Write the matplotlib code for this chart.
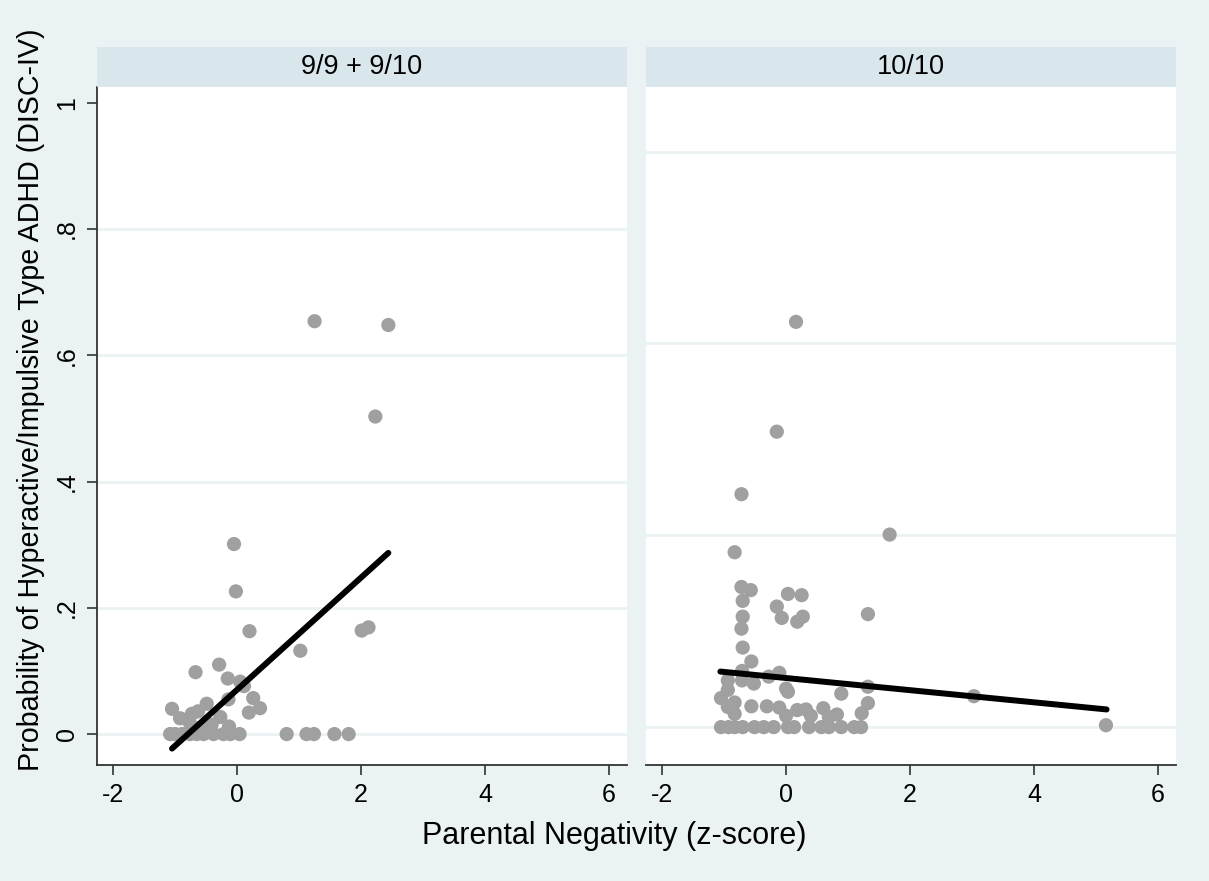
import matplotlib
matplotlib.use("Agg")
import matplotlib.pyplot as plt
import numpy as np

plt.rcParams['font.family'] = ['Liberation Sans', 'DejaVu Sans']

panel_titles = ['9/9 + 9/10', '10/10']

# panel 1: 9/9 + 9/10
x1 = [-0.05, -0.02, 0.20, 1.02, 2.01, 2.12, -0.67, -0.29, -0.15, 0.05, 0.11,
      0.26, 0.37, 0.19, -0.14, -1.05, -0.92, -0.73, -0.63, -0.49, -0.27, -0.13,
      -0.41, -0.76, -0.57, -1.08, -1.00, -0.89, -0.76, -0.65, -0.54, -0.38,
      -0.22, -0.11, 0.04, 0.80, 1.12, 1.24, 1.57, 1.80, 1.25, 2.44, 2.23]
y1 = [0.301, 0.226, 0.163, 0.132, 0.164, 0.169, 0.098, 0.110, 0.088, 0.083, 0.076,
      0.057, 0.041, 0.034, 0.055, 0.040, 0.025, 0.032, 0.036, 0.048, 0.027, 0.012,
      0.015, 0.017, 0.011, 0.0, 0.0, 0.0, 0.0, 0.0, 0.0, 0.0,
      0.0, 0.0, 0.0, 0.0, 0.0, 0.0, 0.0, 0.0, 0.654, 0.648, 0.503]
fit1_x = [-1.05, 2.44]
fit1_y = [-0.023, 0.287]

# panel 2: 10/10
x2 = [0.16, -0.15, -0.72, 1.67, -0.83, -0.72, -0.57, -0.70, 0.03, 0.25, -0.15,
      -0.07, 0.18, 0.27, 1.32, -0.70, -0.72, -0.70, -0.56, -0.71, -0.94, -0.71,
      -0.52, -0.28, -0.11, 0.00, 0.03, 0.89, 1.32, 3.03, -0.94, -1.05, -0.83,
      -0.94, -0.83, -0.56, -0.31, -0.11, 0.00, 0.18, 0.32, 0.40, 0.60, 0.69,
      0.82, 1.32, 1.22, 5.16, -1.05, -0.93, -0.83, -0.70, -0.51, -0.36, -0.20,
      0.03, 0.13, 0.37, 0.57, 0.69, 0.89, 1.10, 1.21]
y2 = [0.653, 0.479, 0.380, 0.316, 0.288, 0.233, 0.228, 0.211, 0.222, 0.220, 0.202,
      0.184, 0.178, 0.186, 0.190, 0.186, 0.167, 0.137, 0.115, 0.100, 0.085, 0.085,
      0.080, 0.091, 0.097, 0.072, 0.067, 0.064, 0.075, 0.060, 0.070, 0.057, 0.050,
      0.043, 0.032, 0.044, 0.044, 0.042, 0.029, 0.038, 0.039, 0.029, 0.041, 0.027,
      0.031, 0.049, 0.033, 0.014, 0.011, 0.011, 0.011, 0.011, 0.011, 0.011, 0.011,
      0.011, 0.011, 0.011, 0.011, 0.011, 0.011, 0.011, 0.011]
fit2_x = [-1.06, 5.17]
fit2_y = [0.099, 0.039]

xticks = [-2, 0, 2, 4, 6]
yticks = [0, 0.2, 0.4, 0.6, 0.8, 1.0]
ytick_labels = ['0', '.2', '.4', '.6', '.8', '1']
grid1 = [0, 0.2, 0.4, 0.6, 0.8]
grid2 = [0.011, 0.315, 0.619, 0.922]

bg = '#EAF2F3'
strip = '#D9E6EB'
dot = '#A0A0A0'
axcol = '#333333'

W, H = 1209, 881
fig = plt.figure(figsize=(W / 100, H / 100), dpi=100, facecolor=bg)

panels = [
    (97, x1, y1, fit1_x, fit1_y, grid1),
    (646, x2, y2, fit2_x, fit2_y, grid2),
]
top, bottom, strip_top = 87, 765, 47
for i, (left, xs, ys, fx, fy, grid) in enumerate(panels):
    ax = fig.add_axes([left / W, 1 - bottom / H, 530 / W, (bottom - top) / H])
    ax.set_facecolor('white')
    for g in grid:
        ax.axhline(g, color='#EAF2F3', lw=2, zorder=1)
    ax.scatter(xs, ys, s=105, color=dot, edgecolors='none', zorder=2)
    ax.plot(fx, fy, color='black', lw=4.3, solid_capstyle='round', zorder=3)
    ax.set_xlim(-2.26, 6.29)
    ax.set_ylim(-0.049, 1.025)
    ax.set_xticks(xticks)
    ax.set_xticklabels([str(t) for t in xticks])
    ax.tick_params(axis='x', length=7, width=1.2, color=axcol,
                   labelsize=18, pad=6)
    for s in ['top', 'right']:
        ax.spines[s].set_visible(False)
    ax.spines['bottom'].set_color(axcol)
    ax.spines['bottom'].set_linewidth(1.3)
    if i == 0:
        ax.set_yticks(yticks)
        ax.set_yticklabels(ytick_labels, rotation=90, va='center')
        ax.tick_params(axis='y', length=7, width=1.2, color=axcol,
                       labelsize=18, pad=6)
        ax.spines['left'].set_color(axcol)
        ax.spines['left'].set_linewidth(1.3)
    else:
        ax.set_yticks([])
        ax.spines['left'].set_visible(False)

    sax = fig.add_axes([left / W, 1 - top / H, 530 / W, (top - strip_top) / H])
    sax.set_facecolor(strip)
    sax.set_xticks([])
    sax.set_yticks([])
    for s in sax.spines.values():
        s.set_visible(False)
    sax.text(0.5, 0.5, panel_titles[i], ha='center', va='center',
             fontsize=19.5, transform=sax.transAxes)

fig.text(31 / W, 1 - 400 / H,
         'Probability of Hyperactive/Impulsive Type ADHD (DISC-IV)',
         rotation=90, ha='center', va='center', fontsize=20.6)
fig.text(614 / W, 1 - 836 / H, 'Parental Negativity (z-score)',
         ha='center', va='center', fontsize=22)

plt.savefig('out.png', dpi=100, facecolor=bg)
